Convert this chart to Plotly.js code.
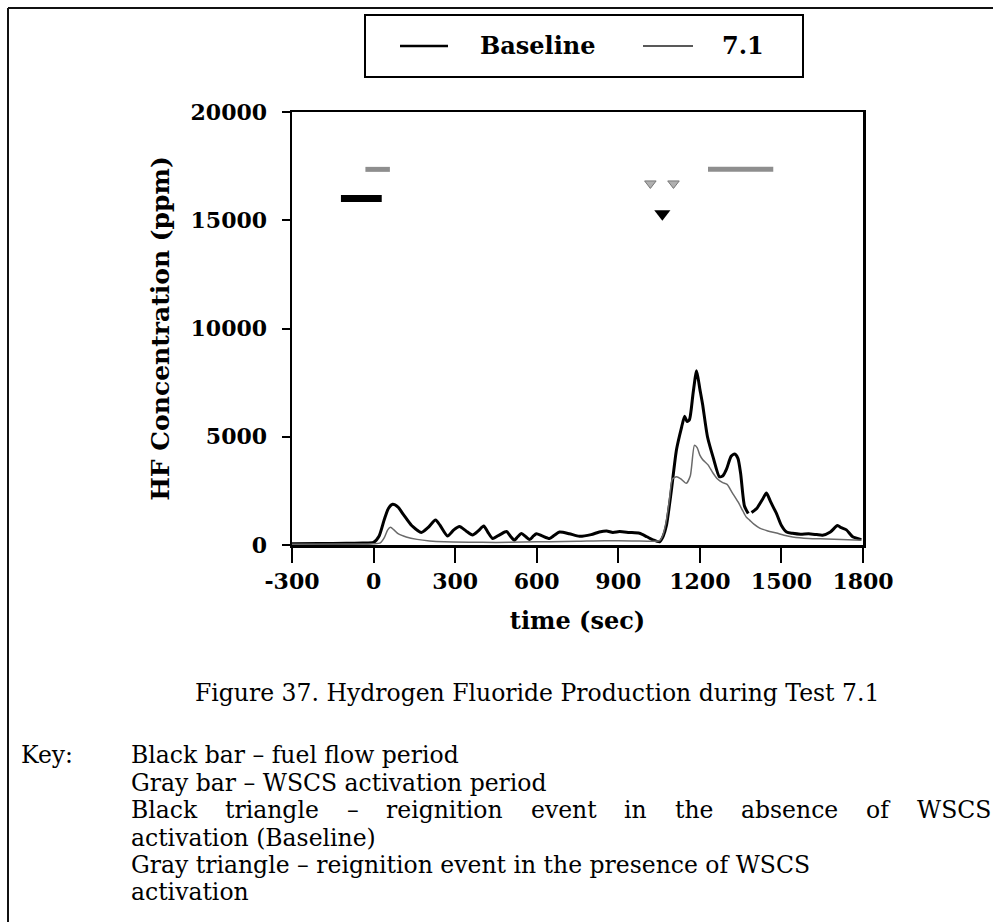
<!DOCTYPE html>
<html>
<head>
<meta charset="utf-8">
<script src="https://cdn.plot.ly/plotly-3.0.1.min.js"></script>
<style>
  html, body { margin: 0; padding: 0; background: #fff; }
  #chart { width: 993px; height: 922px; }
</style>
</head>
<body>
<div id="chart"></div>
<script>
// HF concentration (ppm) vs time (sec), Test 7.1
const baselineTime = [-300, -200, -100, -40, 0, 20, 40, 55, 70, 90, 110, 140, 176, 200, 228, 245, 272, 295, 316, 340, 364, 385, 405, 420, 438, 465, 489, 505, 518, 530, 544, 560, 574, 588, 599, 620, 647, 665, 684, 720, 757, 800, 830, 857, 880, 905, 940, 978, 1005, 1027, 1052, 1065, 1077, 1095, 1114, 1133, 1144, 1153, 1162, 1175, 1188, 1200, 1210, 1228, 1250, 1272, 1285, 1298, 1315, 1328, 1340, 1350, 1364, 1378, 1383, 1390, 1410, 1430, 1445, 1460, 1482, 1500, 1519, 1541, 1570, 1600, 1630, 1651, 1680, 1706, 1720, 1739, 1762, 1794];
const baselineHF = [60, 70, 80, 90, 120, 400, 1200, 1700, 1880, 1750, 1400, 900, 580, 800, 1150, 900, 420, 700, 850, 650, 460, 650, 880, 600, 300, 480, 620, 380, 220, 380, 530, 380, 250, 420, 520, 420, 300, 450, 600, 520, 400, 480, 600, 650, 580, 620, 580, 540, 380, 240, 150, 400, 900, 2500, 4400, 5450, 5950, 5700, 5800, 7000, 8050, 7200, 6500, 5000, 4000, 3150, 3200, 3500, 4100, 4200, 4000, 3300, 1800, 1450, null, 1500, 1700, 2100, 2400, 2000, 1450, 900, 600, 540, 500, 520, 480, 450, 600, 900, 800, 700, 380, 250];

const testTime = [-300, -100, 0, 25, 40, 52, 62, 75, 90, 120, 160, 206, 260, 350, 450, 550, 650, 750, 850, 950, 1030, 1052, 1065, 1077, 1088, 1099, 1114, 1130, 1150, 1165, 1180, 1190, 1200, 1210, 1230, 1247, 1265, 1284, 1300, 1320, 1340, 1357, 1370, 1383, 1400, 1420, 1450, 1482, 1510, 1541, 1600, 1666, 1720, 1794];
const testHF = [40, 50, 60, 100, 350, 700, 820, 700, 520, 370, 260, 190, 150, 130, 120, 140, 150, 170, 200, 190, 170, 200, 500, 1150, 2100, 3050, 3150, 3050, 2850, 3200, 4600, 4500, 4150, 3950, 3700, 3350, 3050, 2880, 2800, 2400, 2000, 1600, 1300, 1150, 950, 780, 650, 550, 450, 370, 300, 280, 250, 220];

// event markers
const fuelFlowPeriod = [-120, 30];
const fuelFlowLevel = 16000;
const wscsPeriods = [[-30, 60], [1230, 1470]];
const wscsLevel = 17350;
const grayTriangleTimes = [1018, 1103];
const grayTriangleLevel = 16700;
const blackTriangleTimes = [1062];
const blackTriangleLevel = 15300;

const xTickVals = [-300, 0, 300, 600, 900, 1200, 1500, 1800];
const xTickText = ['-300', '0', '300', '600', '900', '1200', '1500', '1800'];
const yTickVals = [0, 5000, 10000, 15000, 20000];
const yTickText = ['0', '5000', '10000', '15000', '20000'];

const seriesNames = ['Baseline', '7.1'];
const captionText = 'Figure 37. Hydrogen Fluoride Production during Test 7.1';
const keyLabel = 'Key:';
const keyLines = [
  {text: 'Black bar \u2013 fuel flow period', justify: false},
  {text: 'Gray bar \u2013 WSCS activation period', justify: false},
  {text: 'Black triangle \u2013 reignition event in the absence of WSCS', justify: true},
  {text: 'activation (Baseline)', justify: false},
  {text: 'Gray triangle \u2013 reignition event in the presence of WSCS', justify: false},
  {text: 'activation', justify: false}
];

// page geometry (pixels)
const W = 993, H = 922;
const L = 292, R = 863, T = 112, B = 545;
const pw = R - L, ph = B - T;
const px = X => (X - L) / pw;
const py = Y => (B - Y) / ph;

const boldSerif = 'DejaVu Serif';
const textSerif = 'DejaVu Serif';

const traces = [
  {x: baselineTime, y: baselineHF, type: 'scatter', mode: 'lines', name: seriesNames[0],
   line: {color: '#000', width: 3, shape: 'spline', smoothing: 0.6}, connectgaps: false, showlegend: false},
  {x: testTime, y: testHF, type: 'scatter', mode: 'lines', name: seriesNames[1],
   line: {color: '#6a6a6a', width: 1.5, shape: 'spline', smoothing: 0.6}, showlegend: false},
  {x: fuelFlowPeriod, y: [fuelFlowLevel, fuelFlowLevel], type: 'scatter', mode: 'lines',
   line: {color: '#000', width: 7}, showlegend: false, hoverinfo: 'skip'}
];
wscsPeriods.forEach(p => traces.push({
  x: p, y: [wscsLevel, wscsLevel], type: 'scatter', mode: 'lines',
  line: {color: '#8e8e8e', width: 5}, showlegend: false, hoverinfo: 'skip'
}));
traces.push({
  x: grayTriangleTimes, y: grayTriangleTimes.map(() => grayTriangleLevel), type: 'scatter', mode: 'markers',
  marker: {symbol: 'triangle-down', size: 10, color: '#b0b0b0', line: {color: '#777', width: 1}},
  showlegend: false, hoverinfo: 'skip'
});
traces.push({
  x: blackTriangleTimes, y: blackTriangleTimes.map(() => blackTriangleLevel), type: 'scatter', mode: 'markers',
  marker: {symbol: 'triangle-down', size: 14, color: '#000'},
  showlegend: false, hoverinfo: 'skip'
});

// page frame and a boxed legend with line samples
const shapes = [
  {type: 'line', xref: 'paper', yref: 'paper', x0: px(8), x1: px(W), y0: py(8), y1: py(8), line: {color: '#111', width: 2}},
  {type: 'line', xref: 'paper', yref: 'paper', x0: px(8), x1: px(8), y0: py(8), y1: py(H), line: {color: '#111', width: 2}},
  {type: 'rect', xref: 'paper', yref: 'paper', x0: px(365), x1: px(803), y0: py(15), y1: py(77), line: {color: '#000', width: 2}},
  {type: 'line', xref: 'paper', yref: 'paper', x0: px(400), x1: px(448), y0: py(46), y1: py(46), line: {color: '#000', width: 2.5}},
  {type: 'line', xref: 'paper', yref: 'paper', x0: px(643), x1: px(693), y0: py(46), y1: py(46), line: {color: '#222', width: 1.3}}
];

// key text block
const keyFontSize = 23.5;
const keyLeft = 130, keyRight = 990, keyTop = 755, keyStep = 27.5;

const annotations = [
  {text: '<b>' + seriesNames[0] + '</b>', xref: 'paper', yref: 'paper', x: px(478), y: py(46), xanchor: 'left', yanchor: 'middle',
   showarrow: false, font: {family: boldSerif, size: 24, color: '#000'}},
  {text: '<b>' + seriesNames[1] + '</b>', xref: 'paper', yref: 'paper', x: px(720), y: py(46), xanchor: 'left', yanchor: 'middle',
   showarrow: false, font: {family: boldSerif, size: 24, color: '#000'}},
  {text: captionText, xref: 'paper', yref: 'paper', x: px(537), y: py(693), xanchor: 'center', yanchor: 'middle',
   showarrow: false, font: {family: textSerif, size: 23.5, color: '#000'}},
  {text: keyLabel, xref: 'paper', yref: 'paper', x: px(20), y: py(keyTop), xanchor: 'left', yanchor: 'middle',
   showarrow: false, borderpad: 0, font: {family: textSerif, size: keyFontSize, color: '#000'}}
];

// a justified line is spread word by word across the column
const ctx = document.createElement('canvas').getContext('2d');
ctx.font = keyFontSize + 'px "' + textSerif + '"';
keyLines.forEach((ln, i) => {
  const Y = keyTop + i * keyStep;
  if (!ln.justify) {
    annotations.push({text: ln.text, xref: 'paper', yref: 'paper', x: px(keyLeft), y: py(Y), xanchor: 'left', yanchor: 'middle',
      showarrow: false, borderpad: 0, font: {family: textSerif, size: keyFontSize, color: '#000'}});
    return;
  }
  const words = ln.text.split(' ');
  const widths = words.map(w => ctx.measureText(w).width);
  const total = widths.reduce((a, b) => a + b, 0);
  const gap = (keyRight - keyLeft - total) / (words.length - 1);
  let X = keyLeft;
  words.forEach((w, k) => {
    annotations.push({text: w, xref: 'paper', yref: 'paper', x: px(X), y: py(Y), xanchor: 'left', yanchor: 'middle',
      showarrow: false, borderpad: 0, font: {family: textSerif, size: keyFontSize, color: '#000'}});
    X += widths[k] + gap;
  });
});

const layout = {
  width: W, height: H,
  margin: {l: L, r: W - R, t: T, b: H - B},
  paper_bgcolor: '#fff', plot_bgcolor: '#fff',
  showlegend: false,
  xaxis: {
    range: [-300, 1800], tickvals: xTickVals, ticktext: xTickText,
    ticks: 'outside', ticklen: 15, tickwidth: 2, tickcolor: '#000',
    showline: true, linewidth: 2.5, linecolor: '#000', mirror: true,
    showgrid: false, zeroline: false,
    tickfont: {family: boldSerif, size: 22, color: '#000', weight: 'bold'},
    title: {text: '<b>time (sec)</b>', font: {family: boldSerif, size: 24, color: '#000'}, standoff: 20}
  },
  yaxis: {
    range: [0, 20000], tickvals: yTickVals, ticktext: yTickText,
    ticks: 'outside', ticklen: 8, tickwidth: 2, tickcolor: '#000',
    showline: true, linewidth: 2.5, linecolor: '#000', mirror: true,
    showgrid: false, zeroline: false,
    ticklabelstandoff: 10,
    tickfont: {family: boldSerif, size: 22, color: '#000', weight: 'bold'},
    title: {text: '<b>HF Concentration (ppm)</b>', font: {family: boldSerif, size: 25, color: '#000'}, standoff: 14}
  },
  shapes: shapes,
  annotations: annotations
};

Plotly.newPlot('chart', traces, layout, {displayModeBar: false, staticPlot: true});
</script>
</body>
</html>
